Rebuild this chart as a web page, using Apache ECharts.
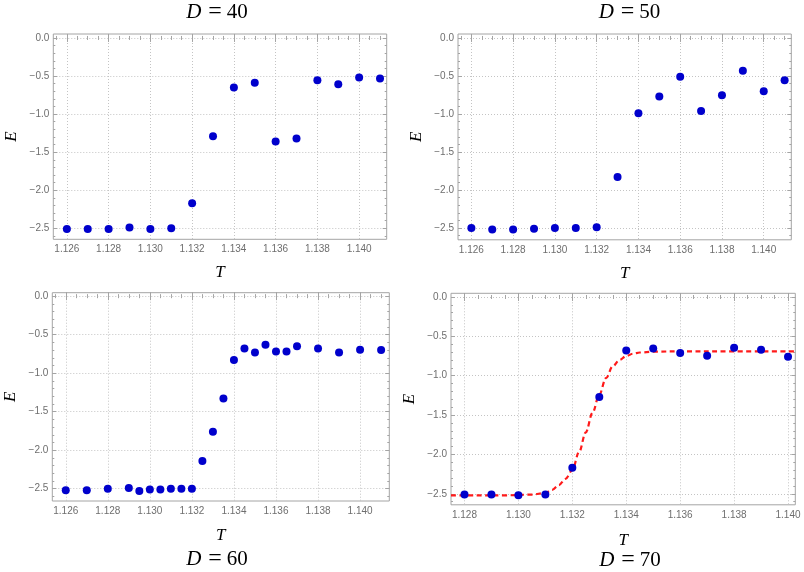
<!DOCTYPE html>
<html>
<head>
<meta charset="utf-8">
<script src="https://cdn.jsdelivr.net/npm/echarts@6/dist/echarts.min.js"></script>
<style>
    html, body { margin: 0; background: #fff; }
    #main { width: 804px; height: 572px; }
</style>
</head>
<body>
<div id="main"></div>
<script>
    // values
    var tD40 = [1.126, 1.127, 1.128, 1.129, 1.130, 1.131, 1.132, 1.133, 1.134, 1.135, 1.136, 1.137, 1.138, 1.139, 1.140, 1.141];
    var eD40 = [-2.51, -2.51, -2.51, -2.49, -2.51, -2.50, -2.17, -1.29, -0.65, -0.59, -1.36, -1.32, -0.555, -0.607, -0.52, -0.533];

    var tD50 = [1.126, 1.127, 1.128, 1.129, 1.130, 1.131, 1.132, 1.133, 1.134, 1.135, 1.136, 1.137, 1.138, 1.139, 1.140, 1.141];
    var eD50 = [-2.50, -2.52, -2.52, -2.51, -2.50, -2.50, -2.49, -1.83, -0.99, -0.77, -0.51, -0.96, -0.755, -0.43, -0.70, -0.555];

    var tD60 = [1.126, 1.127, 1.128, 1.129, 1.1295, 1.130, 1.1305, 1.131, 1.1315, 1.132, 1.1325, 1.133, 1.1335, 1.134,
                1.1345, 1.135, 1.1355, 1.136, 1.1365, 1.137, 1.138, 1.139, 1.140, 1.141];
    var eD60 = [-2.52, -2.52, -2.50, -2.49, -2.53, -2.51, -2.51, -2.50, -2.50, -2.50, -2.14, -1.76, -1.33, -0.83,
                -0.68, -0.73, -0.63, -0.72, -0.72, -0.65, -0.68, -0.73, -0.695, -0.70];

    var tD70 = [1.128, 1.129, 1.130, 1.131, 1.132, 1.133, 1.134, 1.135, 1.136, 1.137, 1.138, 1.139, 1.140];
    var eD70 = [-2.51, -2.51, -2.52, -2.51, -2.17, -1.27, -0.68, -0.655, -0.71, -0.745, -0.645, -0.67, -0.76];

    // red dashed fit curve (D = 70)
    var fitT70 = [1.1275, 1.1285, 1.1295, 1.1305, 1.131, 1.13125, 1.1315, 1.13175, 1.132, 1.13225, 1.1325, 1.13275,
                  1.133, 1.13325, 1.1335, 1.13375, 1.134, 1.13425, 1.1345, 1.135, 1.136, 1.138, 1.1403];
    var fitE70 = [-2.52, -2.52, -2.52, -2.51, -2.49, -2.45, -2.39, -2.31, -2.20, -1.97, -1.72, -1.47,
                  -1.24, -1.03, -0.88, -0.80, -0.75, -0.72, -0.705, -0.695, -0.69, -0.69, -0.69];

    // tick labels
    var xTicks = [1.126, 1.128, 1.130, 1.132, 1.134, 1.136, 1.138, 1.140];
    var xTicks70 = [1.128, 1.130, 1.132, 1.134, 1.136, 1.138, 1.140];
    var yTicks = [0, -0.5, -1.0, -1.5, -2.0, -2.5];
    var titles = ['40', '50', '60', '70'];

    function steps(a, b, d) {
        var out = [];
        var n = Math.round((b - a) / d);
        for (var i = 0; i <= n; i++) out.push(+(a + i * d).toFixed(5));
        return out;
    }
    var xMinor = steps(1.1255, 1.1410, 0.0005);
    var yMinor = steps(-2.6, 0, 0.1);

    function pairs(xs, ys) {
        return xs.map(function (x, i) { return [x, ys[i]]; });
    }

    // plot boxes in pixels: left, top, width, height
    var panels = [
        {data: pairs(tD40, eD40), box: [53.3, 34, 333.4, 205.3], x: [1.12535, 1.14132], y: [-2.645, 0.052], xt: xTicks, title: [217, 12], tGap: 25},
        {data: pairs(tD50, eD50), box: [458, 34, 333.3, 205.8], x: [1.12536, 1.14132], y: [-2.655, 0.052], xt: xTicks, title: [629.5, 12], tGap: 25},
        {data: pairs(tD60, eD60), box: [52.3, 292.7, 337, 208.3], x: [1.12536, 1.14139], y: [-2.66, 0.045], xt: xTicks, title: [217, 559], tGap: 26},
        {data: pairs(tD70, eD70), box: [451, 293.3, 344.3, 211.5], x: [1.1275, 1.14027], y: [-2.64, 0.047], xt: xTicks70, title: [630, 560], tGap: 27}
    ];

    var frameColor = '#a4a4a4';
    var labelStyle = {color: '#6e6e6e', fontSize: 10, fontFamily: 'Liberation Sans'};
    var nameStyle = {color: '#000', fontSize: 17, fontStyle: 'italic', fontFamily: 'Liberation Serif'};
    var serif = 'Liberation Serif';

    var grids = [], xAxes = [], yAxes = [], series = [], graphics = [];

    panels.forEach(function (p, i) {
        grids.push({
            left: p.box[0], top: p.box[1], width: p.box[2], height: p.box[3],
            show: true, borderColor: frameColor, borderWidth: 1, backgroundColor: 'transparent'
        });
        var xMain = xAxes.length;
        // bottom: major ticks, labels, grid lines
        xAxes.push({
            type: 'value', gridIndex: i, position: 'bottom', min: p.x[0], max: p.x[1],
            name: 'T', nameLocation: 'middle', nameGap: p.tGap, nameTextStyle: nameStyle,
            axisLine: {show: false},
            axisTick: {inside: true, length: 4, customValues: p.xt, lineStyle: {color: frameColor}},
            axisLabel: Object.assign({customValues: p.xt, margin: 5, formatter: function (v) { return v.toFixed(3); }}, labelStyle),
            splitLine: {show: true, lineStyle: {color: '#c4c4c4', type: [1, 2]}}
        });
        // top: major ticks only
        xAxes.push({
            type: 'value', gridIndex: i, position: 'top', min: p.x[0], max: p.x[1],
            axisLine: {show: false}, axisLabel: {show: false}, splitLine: {show: false},
            axisTick: {inside: true, length: 4, customValues: p.xt, lineStyle: {color: frameColor}}
        });
        // minor ticks, bottom and top
        ['bottom', 'top'].forEach(function (pos) {
            xAxes.push({
                type: 'value', gridIndex: i, position: pos, min: p.x[0], max: p.x[1],
                axisLine: {show: false}, axisLabel: {show: false}, splitLine: {show: false},
                axisTick: {inside: true, length: 2, customValues: xMinor.filter(function (v) { return v > p.x[0] && v < p.x[1]; }),
                    lineStyle: {color: frameColor}}
            });
        });

        var yMain = yAxes.length;
        yAxes.push({
            type: 'value', gridIndex: i, position: 'left', min: p.y[0], max: p.y[1],
            name: 'E', nameLocation: 'middle', nameGap: 33, nameTextStyle: nameStyle,
            axisLine: {show: false},
            axisTick: {inside: true, length: 4, customValues: yTicks, lineStyle: {color: frameColor}},
            axisLabel: Object.assign({customValues: yTicks, margin: 4, formatter: function (v) {
                return (v < 0 ? '\u2212' : '') + Math.abs(v).toFixed(1);
            }}, labelStyle),
            splitLine: {show: true, lineStyle: {color: '#c4c4c4', type: [1, 2]}}
        });
        yAxes.push({
            type: 'value', gridIndex: i, position: 'right', min: p.y[0], max: p.y[1],
            axisLine: {show: false}, axisLabel: {show: false}, splitLine: {show: false},
            axisTick: {inside: true, length: 4, customValues: yTicks, lineStyle: {color: frameColor}}
        });
        ['left', 'right'].forEach(function (pos) {
            yAxes.push({
                type: 'value', gridIndex: i, position: pos, min: p.y[0], max: p.y[1],
                axisLine: {show: false}, axisLabel: {show: false}, splitLine: {show: false},
                axisTick: {inside: true, length: 2, customValues: yMinor, lineStyle: {color: frameColor}}
            });
        });

        if (i === 3) {
            series.push({
                type: 'line', xAxisIndex: xMain, yAxisIndex: yMain,
                data: pairs(fitT70, fitE70), smooth: 0.35, smoothMonotone: 'x',
                showSymbol: false, silent: true, z: 2,
                lineStyle: {color: '#ff1a1a', width: 2.2, type: [5, 3.5]}
            });
        }
        series.push({
            type: 'scatter', xAxisIndex: xMain, yAxisIndex: yMain,
            data: p.data, symbolSize: 8, z: 3,
            itemStyle: {color: '#0000cc', opacity: 1}
        });

        graphics.push({
            type: 'text', x: p.title[0], y: p.title[1],
            style: {
                text: '{i|D}{eq|=}{n|' + titles[i] + '}',
                rich: {
                    i: {fontStyle: 'italic', fontSize: 21, fontFamily: serif, fill: '#000'},
                    eq: {fontSize: 24, fontFamily: serif, fill: '#000', padding: [0, 5, 0, 7]},
                    n: {fontSize: 21, fontFamily: serif, fill: '#000'}
                },
                fontSize: 21, fontFamily: serif, fill: '#000',
                align: 'center', verticalAlign: 'middle'
            }
        });
    });

    var chart = echarts.init(document.getElementById('main'));
    chart.setOption({
        animation: false,
        backgroundColor: '#fff',
        grid: grids,
        xAxis: xAxes,
        yAxis: yAxes,
        series: series,
        graphic: graphics
    });
</script>
</body>
</html>
